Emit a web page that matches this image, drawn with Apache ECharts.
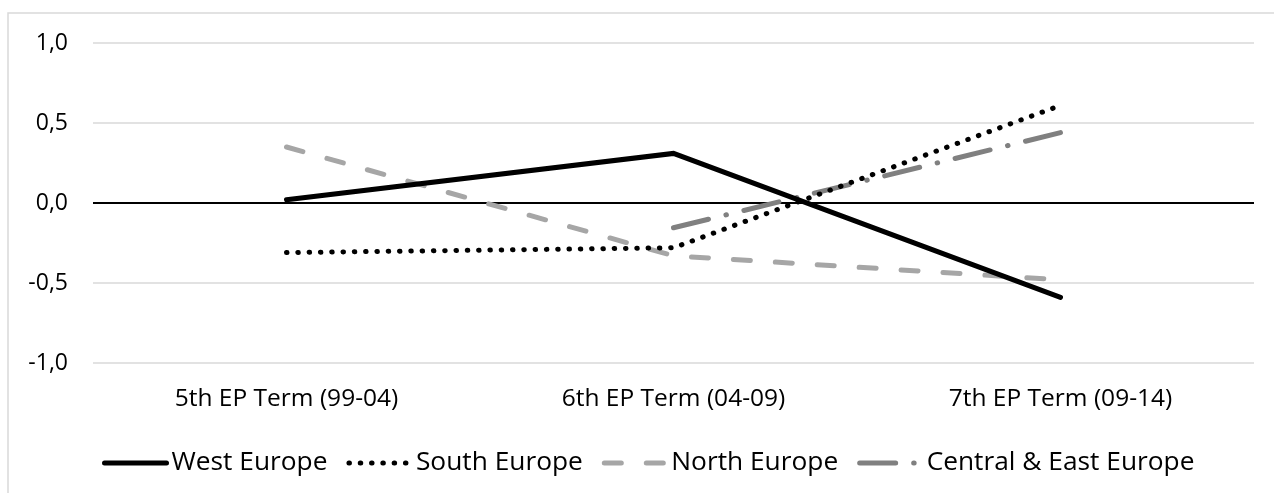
<!DOCTYPE html>
<html>
<head>
<meta charset="utf-8">
<script src="https://cdn.jsdelivr.net/npm/echarts@6/dist/echarts.min.js"></script>
<style>
  html, body { margin: 0; padding: 0; background: #fff; }
  #chart { width: 1274px; height: 493px; }
</style>
</head>
<body>
<div id="chart"></div>
<script>
// Parliamentary terms on the category axis
const terms = ['5th EP Term (99-04)', '6th EP Term (04-09)', '7th EP Term (09-14)'];

// Regional scores per term
const westEurope = [0.02, 0.31, -0.59];
const southEurope = [-0.31, -0.28, 0.61];
const northEurope = [0.35, -0.33, -0.48];
const centralEastEurope = [null, -0.155, 0.44];

// Value axis ticks
const yTicks = [-1.0, -0.5, 0.0, 0.5, 1.0];

const FONT = '"Open Sans", Lato, sans-serif';
const FONT_SIZE = 24.5;
const LINE_W = 5;

const chart = echarts.init(document.getElementById('chart'), null, { renderer: 'canvas' });

chart.setOption({
  animation: false,
  backgroundColor: '#ffffff',
  textStyle: { fontFamily: FONT },
  graphic: [{
    type: 'rect',
    shape: { x: 8, y: 13, width: 1400, height: 600 },
    style: { fill: 'none', stroke: '#d9d9d9', lineWidth: 1.5 },
    silent: true,
    z: -10
  }],
  grid: { left: 93, right: 20, top: 43, bottom: 130, containLabel: false },
  legend: {
    bottom: 12,
    left: 97,
    itemWidth: 62,
    itemHeight: 14,
    itemGap: 19,
    itemStyle: { opacity: 0 },
    lineStyle: { width: LINE_W },
    textStyle: { fontFamily: FONT, fontSize: 26.3, color: '#000' },
    data: ['West Europe', 'South Europe', 'North Europe', 'Central & East Europe']
  },
  xAxis: {
    type: 'category',
    data: terms,
    boundaryGap: true,
    axisLine: { show: false },
    axisTick: { show: false },
    axisLabel: { fontFamily: FONT, fontSize: FONT_SIZE, color: '#000', margin: 24 }
  },
  yAxis: {
    type: 'value',
    min: yTicks[0],
    max: yTicks[yTicks.length - 1],
    interval: 0.5,
    axisLine: { show: false },
    axisTick: { show: false },
    splitLine: { lineStyle: { color: '#d9d9d9', width: 1.5 } },
    axisLabel: {
      fontFamily: FONT, fontSize: 23, color: '#000', margin: 25,
      formatter: v => v.toFixed(1).replace('.', ',')
    }
  },
  series: [
    {
      name: 'West Europe',
      type: 'line',
      data: westEurope,
      symbol: 'none',
      z: 5,
      lineStyle: { color: '#000000', width: LINE_W, cap: 'round', join: 'miter' },
      itemStyle: { color: '#000000' },
      markLine: {
        silent: true,
        symbol: 'none',
        label: { show: false },
        lineStyle: { color: '#000000', width: 2.2, type: 'solid' },
        data: [{ yAxis: 0 }],
        z: 1
      }
    },
    {
      name: 'South Europe',
      type: 'line',
      data: southEurope,
      symbol: 'none',
      z: 4,
      lineStyle: { color: '#000000', width: LINE_W, type: [0.5, 10.8], cap: 'round' },
      itemStyle: { color: '#000000' }
    },
    {
      name: 'North Europe',
      type: 'line',
      data: northEurope,
      symbol: 'none',
      z: 3,
      lineStyle: { color: '#a6a6a6', width: LINE_W, type: [17, 25], cap: 'round' },
      itemStyle: { color: '#a6a6a6' }
    },
    {
      name: 'Central & East Europe',
      type: 'line',
      data: centralEastEurope,
      symbol: 'none',
      z: 3,
      lineStyle: { color: '#808080', width: LINE_W, type: [36, 18, 0.5, 18], cap: 'round' },
      itemStyle: { color: '#808080' }
    }
  ]
});
</script>
</body>
</html>
